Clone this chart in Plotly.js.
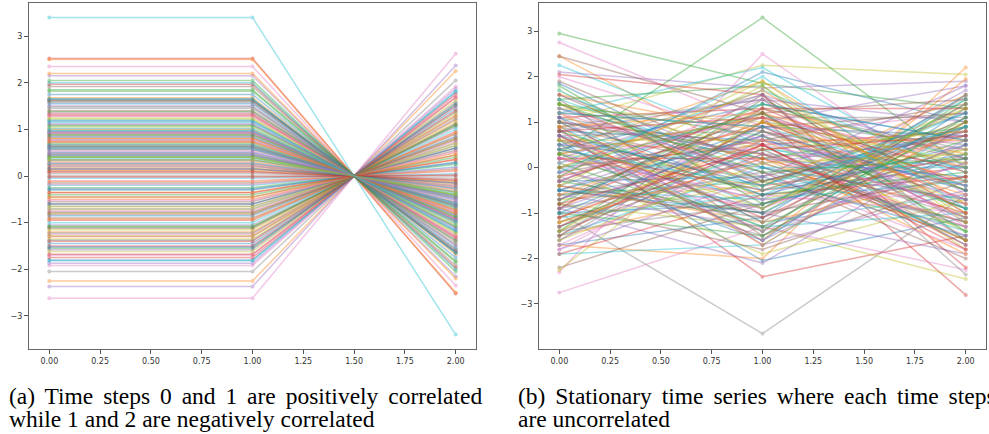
<!DOCTYPE html>
<html>
<head>
<meta charset="utf-8">
<script src="https://cdn.plot.ly/plotly-3.0.1.min.js"></script>
<style>html,body{margin:0;padding:0;background:#fff;}#chart{width:989px;height:434px;}</style>
</head>
<body>
<div id="chart"></div>
<script>
// ---- Panel (a): values of each series at time steps 0, 1, 2 ----
const timeSteps = [0, 1, 2];
const a_t0 = [0.35,-2.25,0.62,2.52,-2.37,-0.45,-2.62,-2.05,0.18,3.40,
  -1.80,2.50,1.85,1.97,2.15,1.62,2.35,0.95,-0.72,2.00,
  1.65,2.20,-1.10,-1.75,-1.87,-0.60,-1.92,1.10,0.88,-1.82,
  0.50,1.68,1.82,1.30,0.72,1.63,-1.70,0.05,1.05,1.20,
  -0.30,0.80,0.42,-0.95,1.50,-0.15,0.55,0.98,-1.35,0.60,
  1.55,-0.50,-1.55,0.25,0.90,0.10,-1.25,1.45,0.70,1.15,
  -0.85,0.30,-0.40,0.75,-1.05,1.40,0.20,-0.65,1.25,-0.20,
  0.45,-1.20,0.65,1.33,0.85,-0.55,-0.10,0.62,-0.80,0.38,
  -1.45,1.00,-0.25,0.15,-1.58,0.92,1.35,-0.70,0.57,-0.05,
  1.18,-0.35,0.47,-1.40,0.78,-0.90,0.28,1.58,-1.15,0.68,
  -0.60,0.12,1.08,-1.30,0.52,0.00,-0.75,0.33,1.22,-1.00,
  0.83,-0.45,0.40,-1.50,0.95,0.22,-0.18,1.48,-1.62,0.58,
  -0.28,0.73,-1.08,0.08,1.12,-0.82,0.48,-1.22,0.35,1.65,
  1.75,-0.12,0.88,-1.68,0.44,1.92,-0.52,0.67,-1.28,1.02,
  0.15,-0.92,1.38,-0.36,0.58,-1.12,0.93,1.60,-0.66,0.27,
  -1.52,0.81,2.05,-0.02,0.63,-0.78,1.28,-1.38,0.40,0.97];
const a_t1 = [0.35,-2.25,0.62,2.52,-2.37,-0.45,-2.62,-2.05,0.18,3.40,
  -1.80,2.50,1.85,1.97,2.15,1.62,2.35,0.95,-0.72,2.00,
  1.65,2.20,-1.10,-1.75,-1.87,-0.60,-1.92,1.10,0.88,-1.82,
  0.50,1.68,1.82,1.30,0.72,1.63,-1.70,0.05,1.05,1.20,
  -0.30,0.80,0.42,-0.95,1.50,-0.15,0.55,0.98,-1.35,0.60,
  1.55,-0.50,-1.55,0.25,0.90,0.10,-1.25,1.45,0.70,1.15,
  -0.85,0.30,-0.40,0.75,-1.05,1.40,0.20,-0.65,1.25,-0.20,
  0.45,-1.20,0.65,1.33,0.85,-0.55,-0.10,0.62,-0.80,0.38,
  -1.45,1.00,-0.25,0.15,-1.58,0.92,1.35,-0.70,0.57,-0.05,
  1.18,-0.35,0.47,-1.40,0.78,-0.90,0.28,1.58,-1.15,0.68,
  -0.60,0.12,1.08,-1.30,0.52,0.00,-0.75,0.33,1.22,-1.00,
  0.83,-0.45,0.40,-1.50,0.95,0.22,-0.18,1.48,-1.62,0.58,
  -0.28,0.73,-1.08,0.08,1.12,-0.82,0.48,-1.22,0.35,1.65,
  1.75,-0.12,0.88,-1.68,0.44,1.92,-0.52,0.67,-1.28,1.02,
  0.15,-0.92,1.38,-0.36,0.58,-1.12,0.93,1.60,-0.66,0.27,
  -1.52,0.81,2.05,-0.02,0.63,-0.78,1.28,-1.38,0.40,0.97];
const a_t2 = [-0.35,2.25,-0.62,-2.52,2.37,0.45,2.62,2.05,-0.18,-3.40,
  1.80,-2.50,-1.85,-1.97,-2.15,-1.62,-2.35,-0.95,0.72,-2.00,
  -1.65,-2.20,1.10,1.75,1.87,0.60,1.92,-1.10,-0.88,1.82,
  -0.50,-1.68,-1.82,-1.30,-0.72,-1.63,1.70,-0.05,-1.05,-1.20,
  0.30,-0.80,-0.42,0.95,-1.50,0.15,-0.55,-0.98,1.35,-0.60,
  -1.55,0.50,1.55,-0.25,-0.90,-0.10,1.25,-1.45,-0.70,-1.15,
  0.85,-0.30,0.40,-0.75,1.05,-1.40,-0.20,0.65,-1.25,0.20,
  -0.45,1.20,-0.65,-1.33,-0.85,0.55,0.10,-0.62,0.80,-0.38,
  1.45,-1.00,0.25,-0.15,1.58,-0.92,-1.35,0.70,-0.57,0.05,
  -1.18,0.35,-0.47,1.40,-0.78,0.90,-0.28,-1.58,1.15,-0.68,
  0.60,-0.12,-1.08,1.30,-0.52,0.00,0.75,-0.33,-1.22,1.00,
  -0.83,0.45,-0.40,1.50,-0.95,-0.22,0.18,-1.48,1.62,-0.58,
  0.28,-0.73,1.08,-0.08,-1.12,0.82,-0.48,1.22,-0.35,-1.65,
  -1.75,0.12,-0.88,1.68,-0.44,-1.92,0.52,-0.67,1.28,-1.02,
  -0.15,0.92,-1.38,0.36,-0.58,1.12,-0.93,-1.60,0.66,-0.27,
  1.52,-0.81,-2.05,0.02,-0.63,0.78,-1.28,1.38,-0.40,-0.97];

// ---- Panel (b): values of each series at time steps 0, 1, 2 ----
const b_t0 = [1.85,2.45,2.95,0.3,2.1,2.45,2.75,-1.0,1.0,2.25,
  -0.2,-1.7,0.3,0.85,-0.5,-2.2,-2.75,0.5,-0.8,1.2,
  0.6,-1.5,1.5,2.05,-0.9,-0.1,-2.3,0.2,-2.25,-1.9,
  1.3,0.7,-1.2,1.4,-1.1,0.9,-0.7,1.1,0.0,-0.3,
  -1.7,0.4,-0.6,1.0,0.6,-1.3,0.2,-0.4,1.7,-1.5,
  0.8,-0.9,0.1,-0.2,1.6,-0.8,0.5,-1.6,0.3,0.9,
  -0.5,1.2,-1.4,0.4,-0.1,1.5,-1.2,0.7,-0.7,0.1,
  -1.0,0.6,-0.3,1.1,-1.8,0.0,0.8,-0.6,1.3,-1.1,
  0.4,-0.4,1.0,-1.5,0.3,-0.9,1.2,-0.2,0.6,-1.3,
  0.0,1.6,-0.8,0.7,-1.6,1.9,-0.1,0.9,-1.2,0.5,
  -0.7,0.2,1.4,-1.9,0.8,-0.5,1.0,-1.4,0.3,1.7,
  -0.3,0.9,-1.0,0.2,-0.6,1.2,-1.8,0.6,-0.4,1.0,
  0.5,-1.1,0.8,-0.3,1.1,-1.4,0.1,-0.9,1.4,-0.5,
  0.7,-0.6,1.8,-1.3,0.2,1.0,-1.7,0.4,-0.2,1.5,
  -1.0,0.9,0.0,-0.8,1.3,-0.4,2.0,-1.5,0.6,-0.1,
  1.1,-1.2,0.3,0.8,-0.9,1.6,-0.3,0.5,-1.6,1.2,
  -0.5,0.0,1.4,-1.1,0.7,-0.7,0.2,1.0,-1.4,0.4];
const b_t1 = [-0.3,0.1,1.85,1.1,1.75,1.2,0.9,-3.65,2.25,0.5,
  2.1,-2.0,3.3,-2.4,1.0,-0.8,-1.3,1.6,-1.3,2.2,
  -2.05,-0.5,1.8,1.6,-2.1,0.6,2.5,-0.9,1.2,-1.7,
  0.2,-1.6,0.4,-0.4,0.9,-0.1,0.7,0.3,-1.9,1.4,
  -1.1,1.9,-0.3,0.5,-1.0,0.8,-0.6,1.1,-0.7,0.0,
  0.6,1.3,-1.4,0.9,0.1,-1.8,0.4,1.0,-0.2,-1.2,
  0.7,-0.9,1.5,-0.5,1.2,-1.5,0.2,0.8,-0.4,1.7,
  -0.8,0.3,-1.0,1.3,-0.2,0.5,-1.4,0.1,1.0,-0.6,
  1.4,-1.2,0.2,1.0,-0.7,1.6,-0.1,-1.5,0.6,0.4,
  -1.6,0.8,1.4,-1.1,0.6,0.0,-0.9,1.5,-0.3,-1.3,
  0.9,-0.4,0.7,-0.6,1.5,-1.1,0.3,-0.8,1.1,-0.5,
  -0.2,1.2,-1.5,0.2,-1.3,0.9,0.5,-0.3,1.8,-0.9,
  0.0,0.6,-0.6,1.3,-1.7,0.3,1.1,-0.1,0.4,-0.7,
  -0.4,1.0,-0.8,0.5,1.6,-1.2,0.3,-0.5,1.9,0.0,
  0.8,-1.7,1.2,0.4,-0.2,-1.0,0.6,1.3,-0.9,2.0,
  -0.6,0.2,-1.3,1.1,0.7,-0.3,1.5,-1.4,0.1,0.9,
  -1.0,1.7,-0.1,0.5,-1.6,1.2,-0.7,0.3,1.0,-0.4];
const b_t2 = [0.9,-1.2,1.3,-2.8,1.9,-0.5,0.4,-0.6,2.05,-0.9,
  1.0,2.2,0.0,-1.5,1.8,0.3,-2.25,-2.35,-2.45,-0.3,
  -1.1,0.7,-1.6,-2.2,0.5,1.4,-0.6,1.55,-1.8,0.9,
  -0.2,1.95,-1.6,0.2,-0.9,-2.0,1.2,0.1,-0.7,0.6,
  1.6,-0.8,-1.3,0.8,-1.9,0.0,-1.0,1.1,0.4,-1.4,
  -0.4,0.3,1.5,-1.1,0.7,-0.3,-1.5,0.5,1.0,-0.6,
  -1.7,1.1,-0.5,0.0,-1.2,0.9,0.6,-0.9,1.3,-0.1,
  0.2,-1.9,1.4,-0.4,0.8,-1.6,0.1,-1.3,-0.8,1.2,
  0.6,-0.2,0.9,-0.7,1.7,-1.0,-1.8,0.3,-1.4,0.0,
  1.3,-0.6,0.2,1.0,-0.3,-1.2,0.8,-1.6,0.4,-1.0,
  0.7,1.6,-0.9,-0.2,1.0,0.5,-1.3,0.9,-0.5,0.3,
  -1.5,0.0,1.1,-1.0,0.1,1.2,-0.4,0.7,-1.1,1.5,
  -0.7,0.6,-0.1,1.3,-0.5,-0.8,0.2,-1.2,0.8,-0.3,
  1.2,-0.3,0.6,-1.7,0.2,1.4,-0.8,0.9,-1.2,0.0,
  -0.5,1.0,-1.4,0.7,1.8,-0.2,-1.1,0.4,1.3,-0.9,
  0.5,-1.6,1.0,-0.1,-0.7,0.8,-1.3,1.6,0.3,-0.4,
  1.1,-1.0,0.2,-1.8,0.6,1.5,-0.6,-1.1,0.1,0.9];

const captionA = ['(a) Time steps 0 and 1 are positively correlated', 'while 1 and 2 are negatively correlated'];
const captionB = ['(b) Stationary time series where each time steps', 'are uncorrelated'];

const tab10 = ['#1f77b4','#ff7f0e','#2ca02c','#d62728','#9467bd','#8c564b','#e377c2','#7f7f7f','#bcbd22','#17becf'];

function makeTraces(t0, t1, t2, xa, ya) {
  const out = [];
  for (let i = 0; i < t0.length; i++) {
    out.push({
      type: 'scatter', mode: 'lines+markers',
      x: timeSteps, y: [t0[i], t1[i], t2[i]],
      xaxis: xa, yaxis: ya,
      line: {color: tab10[i % 10], width: 1.5},
      marker: {color: tab10[i % 10], size: 4},
      opacity: 0.4, showlegend: false, hoverinfo: 'skip'
    });
  }
  return out;
}

const traces = makeTraces(a_t0, a_t1, a_t2, 'x', 'y').concat(makeTraces(b_t0, b_t1, b_t2, 'x2', 'y2'));

const axisCommon = {
  showgrid: false, zeroline: false, showline: true, mirror: true,
  linecolor: '#666', linewidth: 1, ticks: 'outside', ticklen: 4, tickwidth: 1,
  tickcolor: '#555', tickfont: {family: 'DejaVu Sans', size: 8, color: '#333'}
};
const xTicks = [0, 0.25, 0.5, 0.75, 1, 1.25, 1.5, 1.75, 2];
const yDom = [85/434, 431/434];

const capFont = {family: '"Liberation Serif", "Times New Roman", Times, serif', size: 23.5, color: '#000'};
function cap(text, xpx, ypx, ws) {
  const t = ws ? '<span style="word-spacing:' + ws + 'px">' + text + '</span>' : text;
  return {text: t, xref: 'paper', yref: 'paper', x: xpx/989, y: (434-ypx)/434,
    xanchor: 'left', yanchor: 'middle', showarrow: false, font: capFont};
}

const layout = {
  width: 989, height: 434,
  margin: {l: 0, r: 0, t: 0, b: 0},
  paper_bgcolor: '#fff', plot_bgcolor: '#fff',
  colorway: tab10,
  xaxis: Object.assign({}, axisCommon, {domain: [29/989, 476/989], range: [-0.1, 2.1], tickvals: xTicks, tickformat: '.2f', anchor: 'y'}),
  yaxis: Object.assign({}, axisCommon, {domain: yDom, range: [-3.71, 3.71], tickvals: [-3,-2,-1,0,1,2,3], anchor: 'x'}),
  xaxis2: Object.assign({}, axisCommon, {domain: [539/989, 986/989], range: [-0.1, 2.1], tickvals: xTicks, tickformat: '.2f', anchor: 'y2'}),
  yaxis2: Object.assign({}, axisCommon, {domain: yDom, range: [-3.99, 3.62], tickvals: [-4,-3,-2,-1,0,1,2,3], anchor: 'x2'}),
  annotations: [
    cap(captionA[0], 7, 396, 4),
    cap(captionA[1], 7, 418.5),
    cap(captionB[0], 516, 396, 4),
    cap(captionB[1], 516, 418.5)
  ]
};

Plotly.newPlot('chart', traces, layout, {staticPlot: true, displayModeBar: false});
</script>
</body>
</html>
